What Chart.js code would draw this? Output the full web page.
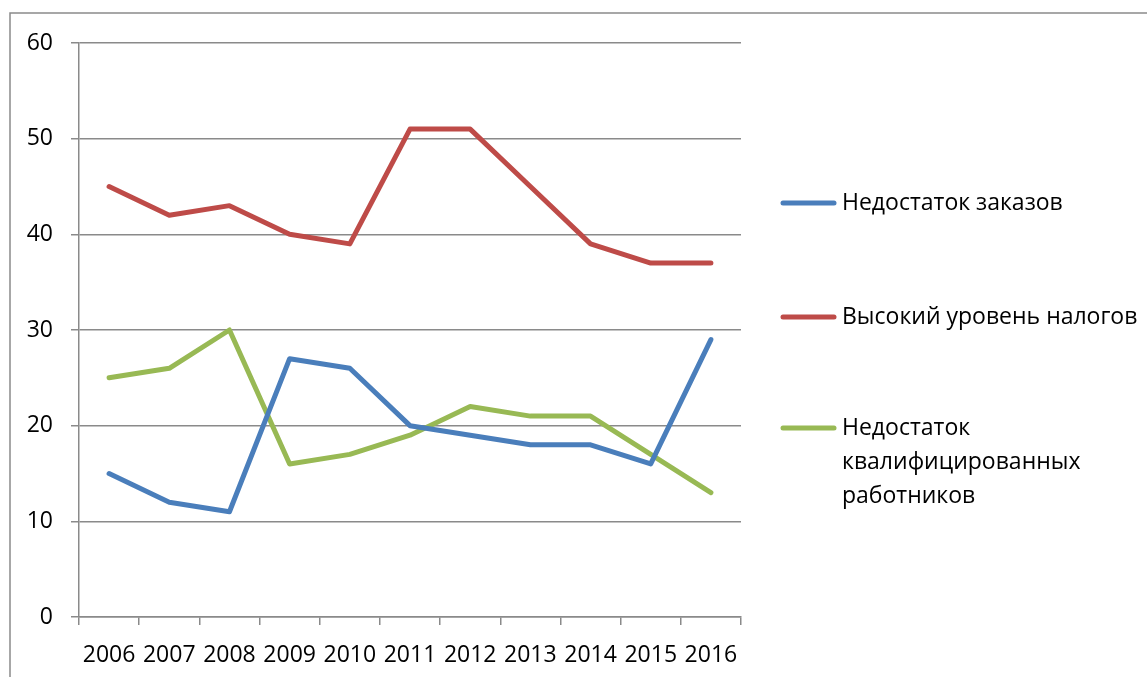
<!DOCTYPE html>
<html>
<head>
<meta charset="utf-8">
<script src="https://cdn.jsdelivr.net/npm/chart.js@4"></script>
<style>
  html, body { margin: 0; padding: 0; background: #fff; }
  #wrap { width: 1147px; height: 677px; position: relative; }
</style>
</head>
<body>
<div id="wrap"><canvas id="chart"></canvas></div>
<script>
const years = ['2006', '2007', '2008', '2009', '2010', '2011', '2012', '2013', '2014', '2015', '2016'];
const lackOfOrders = [15, 12, 11, 27, 26, 20, 19, 18, 18, 16, 29];
const highTaxes = [45, 42, 43, 40, 39, 51, 51, 45, 39, 37, 37];
const lackOfSkilled = [25, 26, 30, 16, 17, 19, 22, 21, 21, 17, 13];
const seriesNames = [
    ['Недостаток заказов'],
    ['Высокий уровень налогов'],
    ['Недостаток', 'квалифицированных', 'работников']
];
const seriesColors = ['#4a7ebb', '#be4b48', '#98b954'];

const FONT = '"Open Sans", "DejaVu Sans", sans-serif';
const GRID = '#8a8a8a';

// рамка вокруг всей диаграммы
const framePlugin = {
    id: 'frame',
    beforeDraw(chart) {
        const ctx = chart.ctx;
        ctx.save();
        ctx.strokeStyle = GRID;
        ctx.lineWidth = 1.5;
        ctx.strokeRect(10, 13, 1200, 700);
        ctx.restore();
    }
};

// легенда справа, с переносом длинной подписи
const sideLegend = {
    id: 'sideLegend',
    afterDraw(chart) {
        const ctx = chart.ctx;
        const rows = [203, 317, 428];
        ctx.save();
        ctx.font = '23px ' + FONT;
        ctx.textBaseline = 'middle';
        ctx.fillStyle = '#000';
        chart.data.datasets.forEach((ds, i) => {
            const y = rows[i];
            ctx.strokeStyle = ds.borderColor;
            ctx.lineWidth = 5;
            ctx.lineCap = 'round';
            ctx.beginPath();
            ctx.moveTo(783, y);
            ctx.lineTo(834, y);
            ctx.stroke();
            seriesNames[i].forEach((line, j) => {
                ctx.fillText(line, 842, y + j * 34);
            });
        });
        ctx.restore();
    }
};

const makeSet = (data, i) => ({
    label: seriesNames[i].join(' '),
    data: data,
    borderColor: seriesColors[i],
    backgroundColor: seriesColors[i],
    borderWidth: 5,
    borderCapStyle: 'round',
    borderJoinStyle: 'round',
    pointRadius: 0,
    pointHoverRadius: 0,
    tension: 0,
    fill: false
});

new Chart(document.getElementById('chart'), {
    type: 'line',
    data: {
        labels: years,
        datasets: [makeSet(lackOfOrders, 0), makeSet(highTaxes, 1), makeSet(lackOfSkilled, 2)]
    },
    options: {
        responsive: true,
        maintainAspectRatio: false,
        animation: false,
        layout: { padding: { left: 0, top: 43, right: 406, bottom: 0 } },
        plugins: {
            legend: { display: false },
            tooltip: { enabled: false }
        },
        scales: {
            x: {
                offset: true,
                grid: {
                    offset: true,
                    drawOnChartArea: false,
                    drawTicks: true,
                    tickLength: 8,
                    color: GRID,
                    lineWidth: 1.5
                },
                border: { display: true, color: GRID, width: 1.5 },
                ticks: { color: '#000', font: { family: FONT, size: 23 }, padding: 17, maxRotation: 0, autoSkip: false },
                afterFit(scale) { scale.height = 60; }
            },
            y: {
                min: 0,
                max: 60,
                ticks: { stepSize: 10, color: '#000', font: { family: FONT, size: 23 }, padding: 18 },
                grid: { color: GRID, lineWidth: 1.5, tickLength: 8 },
                border: { display: true, color: GRID, width: 1.5 },
                afterFit(scale) { scale.width = 79; }
            }
        }
    },
    plugins: [framePlugin, sideLegend]
});
</script>
</body>
</html>
